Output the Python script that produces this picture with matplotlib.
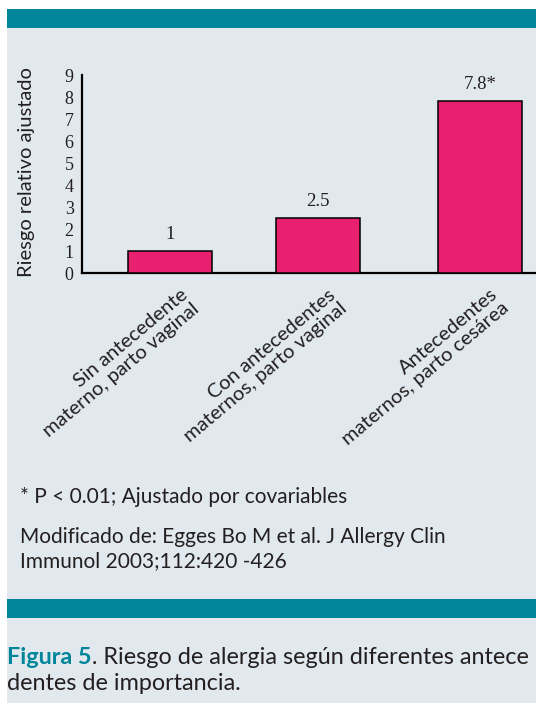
import matplotlib
matplotlib.use("Agg")
import matplotlib.pyplot as plt
from matplotlib.patches import Rectangle
from matplotlib import transforms

# ---- data ----
categories = ["Sin antecedente\nmaterno, parto vaginal",
              "Con antecedentes\nmaternos, parto vaginal",
              "Antecedentes\nmaternos, parto cesárea"]
values = [1, 2.5, 7.8]
value_labels = ["1", "2.5", "7.8*"]
yticks = list(range(0, 10))
ylabel = "Riesgo relativo ajustado"
note1 = "* P < 0.01; Ajustado por covariables"
note2 = "Modificado de: Egges Bo M et al. J Allergy Clin\nImmunol 2003;112:420 -426"
cap_bold = "Figura 5"
cap_rest_1 = ". Riesgo de alergia según diferentes antece"
cap_rest_2 = "dentes de importancia."

# ---- style ----
W, H = 536, 703
BG = "#e1e9ef"
TEAL = "#00859a"
PINK = "#e91f6f"
TXT = "#231f20"
SANS = ["Lato", "DejaVu Sans"]
SERIF = ["Liberation Serif", "DejaVu Serif"]

fig = plt.figure(figsize=(W / 100, H / 100), dpi=100)
fig.patch.set_facecolor("white")

def px_rect(x0, y0, x1, y1, color):
    # pixel coords from top-left
    fig.patches.append(Rectangle((x0 / W, 1 - y1 / H), (x1 - x0) / W, (y1 - y0) / H,
                                 transform=fig.transFigure, facecolor=color,
                                 edgecolor="none", zorder=-10))

px_rect(7, 28, W, H, BG)
px_rect(7, 9, W, 28, TEAL)
px_rect(7, 599, W, 618, TEAL)

# axes: y axis at x=82, baseline y=273, top y=75
ax = fig.add_axes([82 / W, (H - 273) / H, (W - 82) / W, (273 - 75) / H])
ax.set_facecolor("none")

positions = [0, 1, 2.095]
bw = 0.568
ax.bar(positions, values, width=bw, color=PINK, edgecolor="black", linewidth=1.1, zorder=3)
ax.set_xlim(-0.595, 2.473)
ax.set_ylim(0, 9)
ax.set_yticks(yticks)
ax.set_yticklabels([str(t) for t in yticks], fontfamily=SERIF, fontsize=13, color=TXT)
ax.tick_params(axis="y", length=0, pad=6)
ax.set_xticks([])
for s in ["top", "right"]:
    ax.spines[s].set_visible(False)
for s in ["left", "bottom"]:
    ax.spines[s].set_linewidth(1.6)
    ax.spines[s].set_color("black")
ax.spines["left"].set_bounds(0, 9)

for p, v, lab in zip(positions, values, value_labels):
    ax.annotate(lab, (p, v), xytext=(0, 6), textcoords="offset points",
                ha="center", va="bottom", fontfamily=SERIF, fontsize=13.5, color=TXT)

fig.text(27 / W, 1 - 172 / H, ylabel, rotation=90, ha="center", va="center",
         fontfamily=SANS, fontsize=14.5, color=TXT)

# category labels
trans = transforms.offset_copy(ax.get_xaxis_transform(), fig=fig, x=10, y=-13, units="dots")
for p, c in zip(positions, categories):
    ax.text(p, 0, c, transform=trans, rotation=40, rotation_mode="anchor",
            ha="right", va="top", multialignment="right",
            fontfamily=SANS, fontsize=14.5, color=TXT, linespacing=1.05)

fig.text(20 / W, 1 - 497 / H, note1, fontfamily=SANS, fontsize=15, color=TXT, va="center", ha="left")
fig.text(20 / W, 1 - 549 / H, note2, fontfamily=SANS, fontsize=15, color=TXT, va="center", ha="left",
         linespacing=1.25)

t1 = fig.text(7 / W, 1 - 658 / H, cap_bold, fontfamily=SANS, fontsize=16.8, fontweight="bold",
              color=TEAL, va="center", ha="left")
fig.canvas.draw()
bb = t1.get_window_extent()
fig.text(bb.x1 / W, 1 - 658 / H, cap_rest_1, fontfamily=SANS, fontsize=16.8, color=TXT,
         va="center", ha="left")
fig.text(7 / W, 1 - 683 / H, cap_rest_2, fontfamily=SANS, fontsize=16.8, color=TXT,
         va="center", ha="left")

fig.savefig("out.png", dpi=100, facecolor=fig.get_facecolor())
